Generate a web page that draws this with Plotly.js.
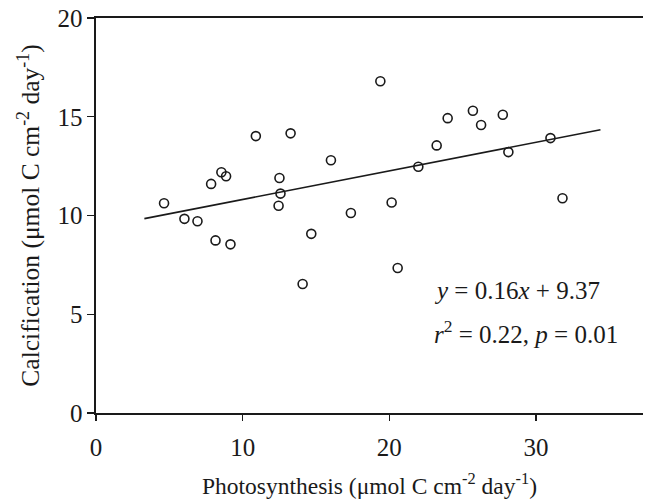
<!DOCTYPE html>
<html>
<head>
<meta charset="utf-8">
<script src="https://cdn.plot.ly/plotly-3.0.1.min.js"></script>
<style>html,body{margin:0;padding:0;background:#fff;}#chart{width:645px;height:503px;}</style>
</head>
<body>
<div id="chart"></div>
<script>
// Observed points: photosynthesis (x) vs calcification (y)
const photosynthesis = [4.64, 6.03, 6.92, 7.85, 8.55, 8.87, 8.15, 9.17, 10.9, 12.51, 12.58, 12.45, 13.27, 14.09, 14.68, 16.02, 17.38, 19.39, 20.16, 20.57, 21.98, 23.23, 23.98, 25.7, 26.26, 27.74, 28.12, 30.99, 31.81];
const calcification  = [10.62, 9.83, 9.71, 11.6, 12.19, 11.99, 8.74, 8.54, 14.02, 11.9, 11.11, 10.49, 14.16, 6.53, 9.07, 12.8, 10.13, 16.8, 10.66, 7.34, 12.47, 13.55, 14.93, 15.3, 14.58, 15.1, 13.21, 13.92, 10.87];
// Fitted line endpoints as drawn
const fitX = [3.3, 34.4];
const fitY = [9.84, 14.34];
const xTicks = [0, 10, 20, 30];
const yTicks = [0, 5, 10, 15, 20];
const eqLine1 = "<i>y</i> = 0.16<i>x</i> + 9.37";
const eqLine2 = "<i>r</i><sup>2</sup> = 0.22, <i>p</i> = 0.01";

const font = '"Liberation Serif", "Times New Roman", Times, serif';
const ink = "#1a1a1a";

const traces = [
  {x: fitX, y: fitY, type: "scatter", mode: "lines", line: {color: ink, width: 1.6}, hoverinfo: "skip", showlegend: false},
  {x: photosynthesis, y: calcification, type: "scatter", mode: "markers",
   marker: {symbol: "circle-open", size: 9, color: ink, line: {width: 1.6, color: ink}}, showlegend: false}
];

const layout = {
  width: 645, height: 503,
  margin: {l: 96, r: 2, t: 18, b: 90},
  paper_bgcolor: "#fff", plot_bgcolor: "#fff",
  font: {family: font, color: ink, size: 24},
  showlegend: false,
  xaxis: {
    range: [0, 37.3], tickvals: xTicks, ticktext: xTicks.map(String),
    showgrid: false, zeroline: false, showline: true, linecolor: ink, linewidth: 1.6,
    mirror: true, ticks: "outside", ticklen: 6, tickwidth: 1.4, tickcolor: ink,
    ticklabelstandoff: 5,
    tickfont: {family: font, size: 25, color: ink},
    title: {text: "Photosynthesis (μmol C cm<sup>-2</sup> day<sup>-1</sup>)", font: {family: font, size: 23.5, color: ink}, standoff: 18}
  },
  yaxis: {
    range: [0, 20], tickvals: yTicks, ticktext: yTicks.map(String),
    showgrid: false, zeroline: false, showline: true, linecolor: ink, linewidth: 1.6,
    ticks: "outside", ticklen: 7, tickwidth: 1.4, tickcolor: ink,
    tickfont: {family: font, size: 25, color: ink},
    title: {text: "Calcification (μmol C cm<sup>-2</sup> day<sup>-1</sup>)", font: {family: font, size: 25.5, color: ink}, standoff: 10}
  },
  annotations: [
    {x: 22.9, y: 6.2, xref: "x", yref: "y", xanchor: "left", yanchor: "middle", text: eqLine1, showarrow: false, font: {family: font, size: 25, color: ink}},
    {x: 22.9, y: 4.1, xref: "x", yref: "y", xanchor: "left", yanchor: "middle", text: eqLine2, showarrow: false, font: {family: font, size: 25, color: ink}}
  ]
};

Plotly.newPlot("chart", traces, layout, {displayModeBar: false, staticPlot: true});
</script>
</body>
</html>
